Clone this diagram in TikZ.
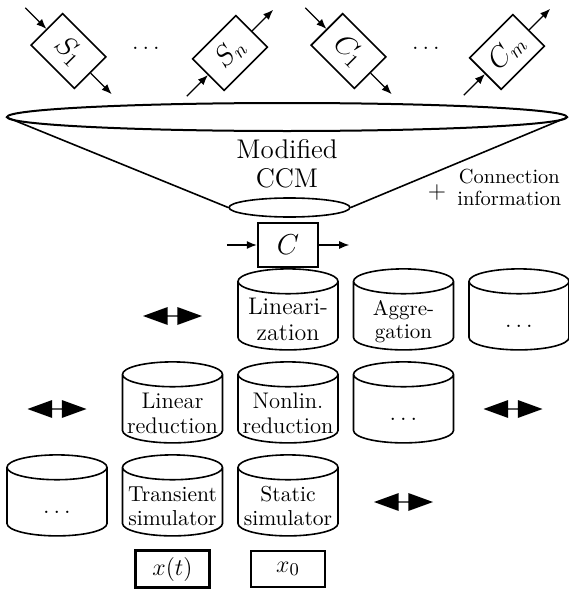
\documentclass[tikz,border=0pt]{standalone}
\usepackage{amsmath}
\usepackage{tikz}
\usetikzlibrary{shapes.geometric, shapes.arrows, arrows.meta, positioning}
\tikzstyle{sysbox} = [rectangle, minimum width=30.5pt, minimum height=22.25pt, inner sep=0pt, draw=black, thick, font=\fontsize{14}{16}\selectfont]
\tikzstyle{method} = [cylinder, shape border rotate=90, aspect=0.27, text width=46pt, minimum width=50pt, minimum height=40.5pt, inner sep=0pt, draw=black, thick, align=center]
\tikzstyle{slide} = [double arrow, fill=black, minimum height=29.5pt, minimum width=9pt, double arrow head extend=2.5pt, double arrow tip angle=40, inner sep=0pt]
\tikzstyle{outbox} = [rectangle, minimum width=37pt, minimum height=18pt, draw=black, line width=1.2pt, font=\fontsize{13}{15}\selectfont]
\tikzstyle{arrow} = [semithick, -{Latex[length=5pt,width=4pt]}]
% text of a method, set a little below the middle of its cylinder
\newcommand{\methodtext}[1]{\raisebox{-6pt}[0pt][0pt]{\begin{tabular}{@{}c@{}}#1\end{tabular}}}

\begin{document}
\begin{tikzpicture}[x=0.5pt, y=-0.5pt, node distance=57.75pt]
  \useasboundingbox (0,0) rectangle (568,589);
  % subsystems and controllers
  \node (s1) [sysbox, rotate=-45] at (68.5,51) {$S_1$};
  \node (sn) [sysbox, rotate=45] at (230,53) {$S_n$};
  \node (c1) [sysbox, rotate=-45] at (348.5,51) {$C_1$};
  \node (cm) [sysbox, rotate=45] at (507,52) {$C_m$};
  \node (sdots) [inner sep=0pt, font=\fontsize{12}{14}\selectfont] at (146,48) {$\ldots$};
  \node (cdots) [inner sep=0pt, font=\fontsize{12}{14}\selectfont] at (426,48) {$\ldots$};
  \coordinate [above left=10.5pt and 10.5pt of s1.west] (s1in);
  \coordinate [below right=10.5pt and 10.5pt of s1.east] (s1out);
  \coordinate [below left=10.5pt and 10.5pt of sn.west] (snin);
  \coordinate [above right=10.5pt and 10.5pt of sn.east] (snout);
  \coordinate [above left=10.5pt and 10.5pt of c1.west] (c1in);
  \coordinate [below right=10.5pt and 10.5pt of c1.east] (c1out);
  \coordinate [below left=10.5pt and 10.5pt of cm.west] (cmin);
  \coordinate [above right=10.5pt and 10.5pt of cm.east] (cmout);
  \draw [arrow] (s1in) -- (s1.west);
  \draw [arrow] (s1.east) -- (s1out);
  \draw [arrow] (snin) -- (sn.west);
  \draw [arrow] (sn.east) -- (snout);
  \draw [arrow] (c1in) -- (c1.west);
  \draw [arrow] (c1.east) -- (c1out);
  \draw [arrow] (cmin) -- (cm.west);
  \draw [arrow] (cm.east) -- (cmout);
  % funnel
  \node (top) [ellipse, draw, line width=1pt, minimum width=280pt, minimum height=14pt, inner sep=0pt] at (287,117) {};
  \node (bot) [ellipse, draw, thick, minimum width=60.5pt, minimum height=9.5pt, inner sep=0pt] at (289.5,207.5) {};
  \draw [thick] (top.west) -- (bot.west);
  \draw [thick] (top.east) -- (bot.east);
  \node (ccm) [align=center, inner sep=0pt, font=\fontsize{13.5}{14.5}\selectfont] at (287,164) {Modified\\CCM};
  \node (plus) [inner sep=0pt, font=\fontsize{12}{14}\selectfont] at (437,192) {$+$};
  \node (info) [align=center, anchor=west, inner sep=0pt, font=\fontsize{10.2}{11}\selectfont] at (457,187) {Connection\\information};
  % composed controller
  \node (cbox) [rectangle, draw=black, line width=1.2pt, minimum width=30pt, minimum height=22pt, font=\fontsize{15}{18}\selectfont] at (288,245) {$C$};
  \coordinate [left=15pt of cbox.west] (cin);
  \coordinate [right=15pt of cbox.east] (cout);
  \draw [arrow] (cin) -- (cbox.west);
  \draw [arrow] (cbox.east) -- (cout);
  % methods
  \node (nonlin) [method, font=\fontsize{11.3}{12.5}\selectfont] at (288,409) {\methodtext{Nonlin.\\reduction}};
  \node (lin) [method, above of=nonlin, node distance=46.5pt, font=\fontsize{12}{13}\selectfont] {\methodtext{Lineari-\\zation}};
  \node (aggr) [method, right of=lin, font=\fontsize{10.5}{11.5}\selectfont] {\methodtext{Aggre-\\gation}};
  \node (mdots1) [method, right of=aggr, font=\fontsize{12}{14}\selectfont] {\methodtext{$\ldots$}};
  \node (linred) [method, left of=nonlin, font=\fontsize{11.3}{12.5}\selectfont] {\methodtext{Linear\\reduction}};
  \node (mdots2) [method, right of=nonlin, font=\fontsize{12}{14}\selectfont] {\methodtext{$\ldots$}};
  \node (stat) [method, below of=nonlin, node distance=46.5pt, font=\fontsize{10.8}{12}\selectfont] {\methodtext{Static\\simulator}};
  \node (trans) [method, left of=stat, font=\fontsize{10.8}{12}\selectfont] {\methodtext{Transient\\simulator}};
  \node (mdots3) [method, left of=trans, font=\fontsize{12}{14}\selectfont] {\methodtext{$\ldots$}};
  \node (slide1) [slide, left of=lin] {};
  \node (slide2) [slide, left of=linred] {};
  \node (slide3) [slide, right of=mdots2, xshift=-3pt] {};
  \node (slide4) [slide, right of=stat] {};
  % results
  \node (xt) [outbox, below of=trans, node distance=33.5pt] {$x(t)$};
  \node (xo) [outbox, below of=stat, node distance=33.5pt] {$x_0$};
\end{tikzpicture}
\end{document}
